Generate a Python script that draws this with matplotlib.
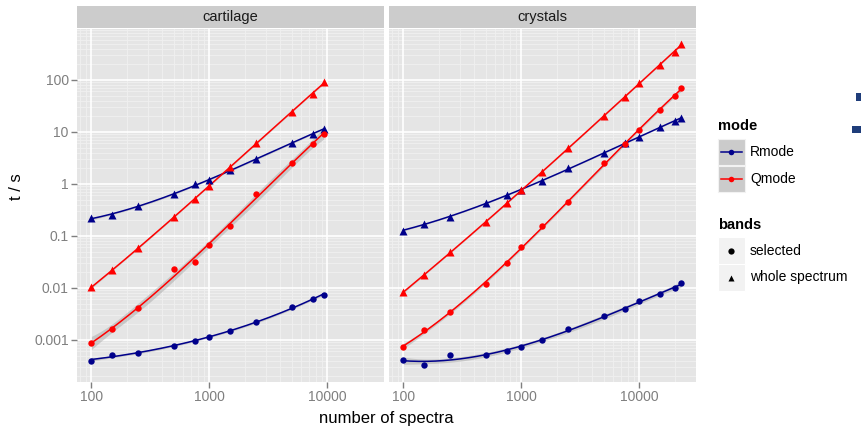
import numpy as np
import matplotlib.pyplot as plt
from matplotlib.patches import Rectangle
from matplotlib.ticker import FixedLocator, FixedFormatter, NullFormatter

plt.rcParams['font.family'] = ['Liberation Sans', 'DejaVu Sans']

# number of spectra per data set
n_cart = [100, 150, 250, 500, 750, 1000, 1500, 2500, 5000, 7500, 9300]
n_cryst = [100, 150, 250, 500, 750, 1000, 1500, 2500, 5000, 7500, 10000, 15000, 20000, 22500]

# timings in seconds
cart_R_sel = [0.0004, 0.00051, 0.00057, 0.00076, 0.00097, 0.00112, 0.0015, 0.0022, 0.0042, 0.0062, 0.0074]
cart_R_whole = [0.22, 0.257, 0.37, 0.64, 0.99, 1.18, 1.83, 3.0, 6.05, 9.2, 11.6]
cart_Q_sel = [0.00089, 0.0016, 0.0041, 0.023, 0.031, 0.066, 0.158, 0.63, 2.5, 5.96, 9.3]
cart_Q_whole = [0.0103, 0.0222, 0.058, 0.229, 0.515, 0.93, 2.15, 6.05, 24.6, 53, 90]

cryst_R_sel = [0.00041, 0.00033, 0.00051, 0.00051, 0.0006, 0.00073, 0.00098, 0.0016, 0.0029, 0.0039, 0.0056, 0.0076, 0.0098, 0.0123]
cryst_R_whole = [0.127, 0.172, 0.235, 0.425, 0.61, 0.77, 1.14, 2.0, 3.9, 6.05, 8.0, 12.3, 16.5, 18.6]
cryst_Q_sel = [0.00074, 0.00154, 0.0034, 0.012, 0.030, 0.062, 0.158, 0.44, 2.5, 5.9, 10.8, 26.5, 50, 71]
cryst_Q_whole = [0.0084, 0.0178, 0.048, 0.183, 0.425, 0.77, 1.68, 5.0, 20.6, 46, 86, 196, 351, 488]

panels = ['cartilage', 'crystals']
modes = ['Rmode', 'Qmode']
mode_colors = {'Rmode': '#00008b', 'Qmode': '#ff0000'}
band_markers = {'selected': 'o', 'whole spectrum': '^'}

data = {
    'cartilage': (n_cart, {('Rmode', 'selected'): cart_R_sel, ('Rmode', 'whole spectrum'): cart_R_whole,
                           ('Qmode', 'selected'): cart_Q_sel, ('Qmode', 'whole spectrum'): cart_Q_whole}),
    'crystals': (n_cryst, {('Rmode', 'selected'): cryst_R_sel, ('Rmode', 'whole spectrum'): cryst_R_whole,
                           ('Qmode', 'selected'): cryst_Q_sel, ('Qmode', 'whole spectrum'): cryst_Q_whole}),
}


def smooth(x, y, deg=3):
    # polynomial fit in log-log space with a 95% band
    lx, ly = np.log10(x), np.log10(y)
    p, cov = np.polyfit(lx, ly, deg, cov=True)
    gx = np.linspace(lx.min(), lx.max(), 200)
    V = np.vander(gx, deg + 1)
    fit = V @ p
    se = np.sqrt(np.einsum('ij,jk,ik->i', V, cov, V))
    return 10 ** gx, 10 ** fit, 10 ** (fit - 1.96 * se), 10 ** (fit + 1.96 * se)


W, H = 862, 428
fig = plt.figure(figsize=(W / 100, H / 100), dpi=100)

def fx(px):
    return px / W

def fy(py):
    return 1 - py / H

panel_x = [(77, 384), (389, 696)]
top, bottom = 28.5, 382
xlim = (10 ** 1.878, 10 ** 4.48)
ylim = (10 ** -3.81, 10 ** 2.99)
grey = '#7f7f7f'

for i, name in enumerate(panels):
    x0, x1 = panel_x[i]
    ax = fig.add_axes([fx(x0), fy(bottom), fx(x1 - x0), (bottom - top) / H])
    ax.set_facecolor('#e5e5e5')
    ax.set_xscale('log')
    ax.set_yscale('log')
    ax.set_xlim(*xlim)
    ax.set_ylim(*ylim)
    for s in ax.spines.values():
        s.set_visible(False)

    # grid: minor at 2..9 x 10^k, major at decades
    minor_x = [m * 10 ** k for k in range(1, 5) for m in range(2, 10)]
    minor_y = [m * 10 ** k for k in range(-4, 3) for m in range(2, 10)]
    for v in minor_x:
        ax.axvline(v, color='#f0f0f0', lw=0.6, zorder=0)
    for v in minor_y:
        ax.axhline(v, color='#f0f0f0', lw=0.6, zorder=0)
    for v in [100, 1000, 10000]:
        ax.axvline(v, color='white', lw=1.2, zorder=0.5)
    for v in [0.001, 0.01, 0.1, 1, 10, 100]:
        ax.axhline(v, color='white', lw=1.2, zorder=0.5)

    ax.xaxis.set_major_locator(FixedLocator([100, 1000, 10000]))
    ax.xaxis.set_major_formatter(FixedFormatter(['100', '1000', '10000']))
    ax.xaxis.set_minor_formatter(NullFormatter())
    ax.yaxis.set_major_locator(FixedLocator([0.001, 0.01, 0.1, 1, 10, 100]))
    ax.yaxis.set_major_formatter(FixedFormatter(['0.001', '0.01', '0.1', '1', '10', '100']))
    ax.yaxis.set_minor_formatter(NullFormatter())
    ax.tick_params(which='minor', length=0)
    ax.tick_params(which='major', length=4, width=1, color=grey, labelcolor=grey, labelsize=10, pad=2)
    if i == 1:
        ax.tick_params(axis='y', which='both', left=False, labelleft=False)

    n, series = data[name]
    for (mode, band), t in series.items():
        col = mode_colors[mode]
        gx, fit, lo, hi = smooth(n, t)
        ax.fill_between(gx, lo, hi, color='#999999', alpha=0.4, lw=0, zorder=2)
        ax.plot(gx, fit, color=col, lw=1.1, zorder=3)
        ms = 4.6 if band == 'selected' else 6
        ax.plot(n, t, ls='none', marker=band_markers[band], color=col, ms=ms, mec='none', zorder=4)

    # strip
    sax = fig.add_axes([fx(x0), fy(top - 0.5), fx(x1 - x0), 22.5 / H])
    sax.set_facecolor('#cccccc')
    sax.set_xticks([])
    sax.set_yticks([])
    for s in sax.spines.values():
        s.set_visible(False)
    sax.text(0.5, 0.5, name, ha='center', va='center', fontsize=10.5, color='#1a1a1a', transform=sax.transAxes)

fig.text(fx(386), fy(418), 'number of spectra', ha='center', va='center', fontsize=12)
fig.text(fx(17), fy(187), 't / s', ha='center', va='center', rotation=90, fontsize=12)

# legend drawn in pixel coordinates
ov = fig.add_axes([0, 0, 1, 1], facecolor='none')
ov.set_xlim(0, W)
ov.set_ylim(H, 0)
ov.axis('off')

ov.text(718, 126, 'mode', fontsize=10.5, fontweight='bold', ha='left', va='center')
for j, mode in enumerate(modes):
    yk = 138.5 + j * 27
    ov.add_patch(Rectangle((718, yk), 27, 26.5, facecolor='#cbcbcb', edgecolor='#f2f2f2', lw=0.8))
    ov.plot([721, 742], [yk + 13.5, yk + 13.5], color=mode_colors[mode], lw=1.1)
    ov.plot([731.5], [yk + 13.5], marker='o', color=mode_colors[mode], ms=4, mec='none')
    ov.text(750, yk + 13.5, mode, fontsize=10, ha='left', va='center')

ov.text(718, 225, 'bands', fontsize=10.5, fontweight='bold', ha='left', va='center')
for j, band in enumerate(['selected', 'whole spectrum']):
    yk = 237 + j * 27
    ov.add_patch(Rectangle((718, yk), 27, 26.5, facecolor='#f2f2f2', edgecolor='white', lw=0.8))
    ov.plot([731.5], [yk + 13.5], marker=band_markers[band], color='black', ms=4.5, mec='none')
    ov.text(750, yk + 13.5, band, fontsize=10, ha='left', va='center')

# cut-off marks at the right edge of the original image
ov.add_patch(Rectangle((856.5, 93), 6, 7.5, facecolor='#1f3d7a', edgecolor='none'))
ov.add_patch(Rectangle((852, 125.5), 10, 7, facecolor='#1f3d7a', edgecolor='none'))

fig.savefig('out.png', dpi=100)
